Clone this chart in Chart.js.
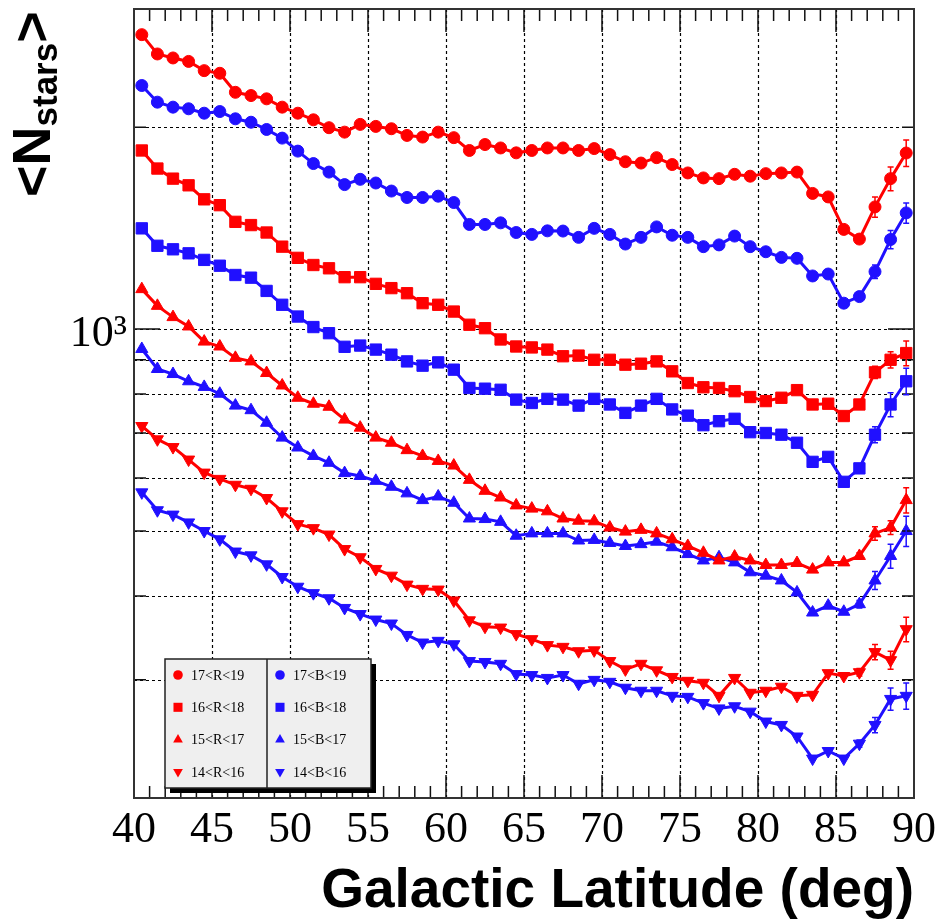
<!DOCTYPE html>
<html>
<head>
<meta charset="utf-8">
<script src="https://cdn.jsdelivr.net/npm/chart.js@4.4.1/dist/chart.umd.min.js"></script>
<style>
  html, body { margin: 0; padding: 0; background: #fff; }
  #wrap { width: 939px; height: 921px; }
</style>
</head>
<body>
<div id="wrap"><canvas id="chart" width="939" height="921"></canvas></div>
<script>
// Galactic latitude bin centres (deg)
const latitudes = [40.5, 41.5, 42.5, 43.5, 44.5, 45.5, 46.5, 47.5, 48.5, 49.5,
                   50.5, 51.5, 52.5, 53.5, 54.5, 55.5, 56.5, 57.5, 58.5, 59.5,
                   60.5, 61.5, 62.5, 63.5, 64.5, 65.5, 66.5, 67.5, 68.5, 69.5,
                   70.5, 71.5, 72.5, 73.5, 74.5, 75.5, 76.5, 77.5, 78.5, 79.5,
                   80.5, 81.5, 82.5, 83.5, 84.5, 85.5, 86.5, 87.5, 88.5, 89.5];

// <N_stars> per bin
const r1719 = [2747, 2571, 2536, 2506, 2428, 2406, 2254, 2229, 2204, 2142,
               2098, 2051, 1996, 1966, 2019, 2005, 1989, 1944, 1933, 1966,
               1929, 1846, 1884, 1862, 1831, 1846, 1862, 1862, 1846, 1858,
               1820, 1776, 1768, 1801, 1759, 1709, 1680, 1676, 1701, 1690,
               1705, 1709, 1714, 1593, 1574, 1408, 1362, 1521, 1676, 1830];
const b1719 = [2307, 2179, 2142, 2130, 2098, 2110, 2058, 2034, 1984, 1926,
               1842, 1765, 1714, 1642, 1672, 1651, 1606, 1571, 1571, 1578,
               1544, 1432, 1432, 1440, 1393, 1384, 1401, 1400, 1370, 1413,
               1384, 1339, 1370, 1420, 1380, 1370, 1327, 1335, 1376, 1327,
               1304, 1279, 1275, 1200, 1208, 1093, 1118, 1218, 1360, 1490];
const r1618 = [1846, 1735, 1676, 1638, 1561, 1530, 1445, 1429, 1393, 1327,
               1277, 1246, 1232, 1195, 1195, 1168, 1151, 1131, 1093, 1087,
               1062, 1015, 1003, 965, 942, 939, 932, 911, 913, 900,
               900, 885, 888, 895, 865, 831, 819, 817, 808, 792,
               781, 790, 811, 772, 774, 742, 772, 862, 900, 921];
const b1618 = [1413, 1331, 1315, 1297, 1268, 1243, 1204, 1193, 1140, 1087,
               1044, 1007, 986, 941, 945, 932, 916, 895, 882, 892,
               870, 817, 815, 812, 785, 776, 787, 785, 769, 787,
               772, 750, 769, 787, 759, 743, 719, 729, 735, 702,
               700, 696, 677, 634, 645, 592, 620, 696, 772, 836];
const r1517 = [1147, 1083, 1042, 1009, 958, 942, 906, 895, 860, 824,
               790, 774, 766, 733, 713, 689, 677, 660, 647, 636,
               626, 596, 574, 561, 546, 540, 535, 522, 518, 517,
               506, 499, 502, 496, 486, 475, 464, 452, 458, 452,
               445, 445, 448, 438, 449, 449, 459, 496, 506, 556];
const b1517 = [934, 872, 857, 836, 820, 801, 769, 757, 725, 689,
               666, 647, 632, 610, 604, 594, 582, 569, 556, 563,
               551, 522, 521, 516, 492, 496, 496, 496, 484, 485,
               480, 475, 478, 482, 473, 462, 452, 457, 449, 434,
               429, 422, 405, 378, 387, 379, 389, 422, 459, 500];
const r1416 = [717, 685, 667, 639, 611, 598, 586, 578, 560, 535,
               512, 505, 494, 470, 457, 439, 429, 416, 410, 409,
               394, 368, 360, 359, 351, 345, 338, 336, 331, 332,
               320, 311, 317, 310, 303, 299, 297, 284, 302, 287,
               289, 293, 284, 285, 307, 304, 308, 330, 321, 357];
const b1416 = [571, 537, 529, 515, 500, 486, 466, 460, 446, 427,
               413, 404, 397, 384, 376, 369, 364, 350, 341, 343,
               339, 320, 319, 317, 306, 305, 302, 305, 296, 300,
               298, 292, 289, 289, 284, 283, 277, 272, 274, 269,
               260, 257, 247, 229, 235, 229, 241, 257, 281, 284];

// visible error bars (only the last bins are larger than the markers)
const errLat = [86.5, 87.5, 88.5, 89.5];
const errR1719 = [14, 53, 68, 83];
const errB1719 = [10, 28, 43, 52];
const errR1618 = [8, 18, 25, 39];
const errB1618 = [8, 19, 32, 38];
const errR1517 = [5, 11.5, 12, 24];
const errB1517 = [5, 13, 19, 26];
const errR1416 = [4, 8.6, 10, 15];
const errB1416 = [3, 6.7, 10.7, 12.8];

// axis ticks
const xTickValues = [40, 45, 50, 55, 60, 65, 70, 75, 80, 85, 90];
const yTickValues = [300, 400, 500, 600, 700, 800, 900, 1000, 2000];

const RED = '#ff0000';
const BLUE = '#2010ff';

function series(label, values, errs, color, style, radius, rotation) {
    return {
        label: label,
        data: values.map((v, i) => ({x: latitudes[i], y: v})),
        errors: errs,
        borderColor: color,
        backgroundColor: color,
        borderWidth: 3,
        pointStyle: style,
        pointRadius: radius,
        pointRotation: rotation || 0,
        pointBackgroundColor: color,
        pointBorderColor: color,
        pointBorderWidth: 1,
        tension: 0
    };
}

const datasets = [
    series('17<R<19', r1719, errR1719, RED, 'circle', 6),
    series('17<B<19', b1719, errB1719, BLUE, 'circle', 6),
    series('16<R<18', r1618, errR1618, RED, 'rect', 8),
    series('16<B<18', b1618, errB1618, BLUE, 'rect', 8),
    series('15<R<17', r1517, errR1517, RED, 'triangle', 7),
    series('15<B<17', b1517, errB1517, BLUE, 'triangle', 7),
    series('14<R<16', r1416, errR1416, RED, 'triangle', 7, 180),
    series('14<B<16', b1416, errB1416, BLUE, 'triangle', 7, 180)
];

// dotted grid, inner tick marks and frame (ROOT style)
const frameAndGrid = {
    id: 'frameAndGrid',
    beforeDatasetsDraw(chart) {
        const {ctx, chartArea: a, scales: {x, y}} = chart;
        ctx.save();
        ctx.strokeStyle = '#000';
        ctx.lineWidth = 1.2;
        ctx.setLineDash([3, 3]);
        ctx.beginPath();
        xTickValues.slice(1, -1).forEach(v => {
            const px = Math.round(x.getPixelForValue(v)) + 0.5;
            ctx.moveTo(px, a.top);
            ctx.lineTo(px, a.bottom);
        });
        yTickValues.forEach(v => {
            const py = Math.round(y.getPixelForValue(v)) + 0.5;
            ctx.moveTo(a.left, py);
            ctx.lineTo(a.right, py);
        });
        ctx.stroke();
        ctx.restore();
    },
    afterDatasetsDraw(chart) {
        const {ctx, chartArea: a, scales: {x, y}} = chart;
        ctx.save();
        ctx.strokeStyle = '#111';
        ctx.lineWidth = 1.5;
        ctx.beginPath();
        for (let v = 41; v < 90; v++) {
            const len = v % 5 === 0 ? 23 : 12;
            const px = x.getPixelForValue(v);
            ctx.moveTo(px, a.bottom);
            ctx.lineTo(px, a.bottom - len);
            ctx.moveTo(px, a.top);
            ctx.lineTo(px, a.top + len);
        }
        yTickValues.forEach(v => {
            const len = v === 1000 ? 26 : 12;
            const py = y.getPixelForValue(v);
            ctx.moveTo(a.left, py);
            ctx.lineTo(a.left + len, py);
            ctx.moveTo(a.right, py);
            ctx.lineTo(a.right - len, py);
        });
        ctx.stroke();
        ctx.lineWidth = 2;
        ctx.strokeStyle = '#333';
        ctx.strokeRect(a.left, a.top, a.right - a.left, a.bottom - a.top);
        ctx.restore();
    }
};

// vertical error bars with small caps
const errorBars = {
    id: 'errorBars',
    afterDatasetsDraw(chart) {
        const {ctx, scales: {x, y}} = chart;
        ctx.save();
        ctx.lineWidth = 1.5;
        chart.data.datasets.forEach(ds => {
            ctx.strokeStyle = ds.borderColor;
            ctx.beginPath();
            errLat.forEach((lat, j) => {
                const k = latitudes.indexOf(lat);
                const v = ds.data[k].y;
                const e = ds.errors[j];
                const px = x.getPixelForValue(lat);
                const y1 = y.getPixelForValue(v + e);
                const y2 = y.getPixelForValue(v - e);
                ctx.moveTo(px, y1); ctx.lineTo(px, y2);
                ctx.moveTo(px - 3, y1); ctx.lineTo(px + 3, y1);
                ctx.moveTo(px - 3, y2); ctx.lineTo(px + 3, y2);
            });
            ctx.stroke();
        });
        ctx.restore();
    }
};

// two-column legend box with shadow
const legendBox = {
    id: 'legendBox',
    afterDraw(chart) {
        const ctx = chart.ctx;
        const left = 165, top = 659, w = 206, h = 129, split = 267;
        ctx.save();
        ctx.fillStyle = '#000';
        ctx.fillRect(left + 5, top + 5, w, h);
        ctx.fillStyle = '#efefef';
        ctx.fillRect(left, top, w, h);
        ctx.strokeStyle = '#222';
        ctx.lineWidth = 1.5;
        ctx.strokeRect(left, top, w, h);
        ctx.beginPath();
        ctx.moveTo(split, top);
        ctx.lineTo(split, top + h);
        ctx.stroke();
        ctx.font = '14px "Liberation Serif"';
        ctx.textBaseline = 'middle';
        chart.data.datasets.forEach((ds, i) => {
            const col = i % 2, row = Math.floor(i / 2);
            const mx = col === 0 ? 178 : 280;
            const my = top + 16 + row * 32.3;
            ctx.fillStyle = ds.borderColor;
            ctx.strokeStyle = ds.borderColor;
            if (Chart.helpers && Chart.helpers.drawPoint) {
                Chart.helpers.drawPoint(ctx, {
                    pointStyle: ds.pointStyle,
                    rotation: ds.pointRotation,
                    radius: ds.pointRadius * 0.8,
                    borderWidth: 0
                }, mx, my);
            } else {
                ctx.beginPath();
                ctx.arc(mx, my, 5, 0, Math.PI * 2);
                ctx.fill();
            }
            ctx.fillStyle = '#000';
            ctx.fillText(ds.label, mx + 13, my + 1);
        });
        ctx.restore();
    }
};

// axis titles (y title needs a subscript)
const axisTitles = {
    id: 'axisTitles',
    afterDraw(chart) {
        const {ctx, chartArea: a} = chart;
        ctx.save();
        ctx.fillStyle = '#000';
        ctx.font = 'bold 55px "Liberation Sans"';
        ctx.textAlign = 'right';
        ctx.textBaseline = 'alphabetic';
        ctx.fillText('Galactic Latitude (deg)', a.right, 907);

        ctx.translate(50, 197);
        ctx.rotate(-Math.PI / 2);
        ctx.textAlign = 'left';
        ctx.font = 'bold 54px "Liberation Sans"';
        ctx.fillText('<N', 0, 0);
        let off = ctx.measureText('<N').width;
        ctx.font = 'bold 35px "Liberation Sans"';
        ctx.fillText('stars', off, 7);
        off += ctx.measureText('stars').width;
        ctx.font = 'bold 54px "Liberation Sans"';
        ctx.fillText('>', off, 0);
        ctx.restore();
    }
};

new Chart(document.getElementById('chart').getContext('2d'), {
    type: 'line',
    data: {datasets: datasets},
    plugins: [frameAndGrid, errorBars, legendBox, axisTitles],
    options: {
        responsive: false,
        animation: false,
        layout: {padding: {left: 0, right: 25, top: 9, bottom: 0}},
        plugins: {legend: {display: false}, tooltip: {enabled: false}},
        scales: {
            x: {
                type: 'linear',
                min: 40,
                max: 90,
                grid: {display: false, drawTicks: false},
                border: {display: false},
                afterBuildTicks: s => { s.ticks = xTickValues.map(v => ({value: v})); },
                afterFit: s => { s.height = 123; s.paddingLeft = 0; s.paddingRight = 0; },
                ticks: {
                    font: {family: '"Liberation Serif"', size: 44},
                    color: '#000',
                    padding: 6,
                    maxRotation: 0,
                    autoSkip: false
                }
            },
            y: {
                type: 'logarithmic',
                min: 200,
                max: 3000,
                grid: {display: false, drawTicks: false},
                border: {display: false},
                afterBuildTicks: s => { s.ticks = yTickValues.map(v => ({value: v})); },
                afterFit: s => { s.width = 134; s.paddingTop = 0; s.paddingBottom = 0; },
                ticks: {
                    font: {family: '"Liberation Serif"', size: 44},
                    color: '#000',
                    padding: 7,
                    labelOffset: 5,
                    autoSkip: false,
                    callback: v => (v === 1000 ? '10³' : null)
                }
            }
        }
    }
});
</script>
</body>
</html>
